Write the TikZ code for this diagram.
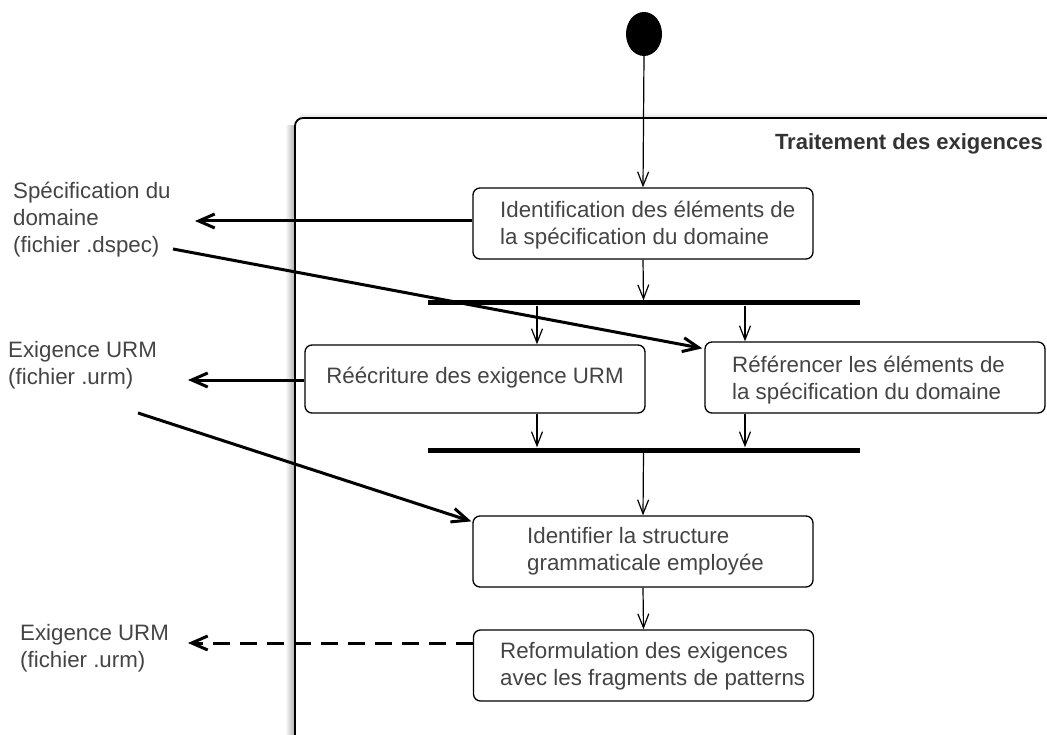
\documentclass[tikz,border=0pt]{standalone}
\usepackage{fontspec}
\setmainfont{Liberation Sans}
\usetikzlibrary{arrows.meta,shapes.geometric,calc}
\definecolor{txt}{HTML}{444444}
\definecolor{ttl}{HTML}{333333}
\tikzset{
  act/.style={draw=black, line width=1.3pt, rounded corners=7pt, fill=white,
    minimum width=340pt, inner sep=0pt},
  lbl/.style={text=txt, font=\fontsize{22.3}{27}\selectfont, align=left, inner sep=0pt},
  bar/.style={fill=black, minimum width=432pt, minimum height=5pt, inner sep=0pt},
  flow/.style={line width=1.2pt, -{Straight Barb[length=14pt,width=11pt]}},
  ext/.style={line width=3pt, -{Straight Barb[length=16pt,width=14pt]}},
}
\begin{document}
\begin{tikzpicture}[x=1pt,y=-1pt]
\useasboundingbox (0,0) rectangle (1047,735);
\clip (0,0) rectangle (1047,735);

% region: soft shadow on the left, then the frame itself
\shade[left color=white, right color=black!32] (285,126) rectangle (295,760);
\shade[top color=white, bottom color=black!12] (300,112) rectangle (1080,118);
\draw[line width=1.8pt, rounded corners=8pt, fill=white] (295,118) rectangle (1080,770);
\node[anchor=east, text=ttl, font=\fontsize{22}{27}\selectfont\bfseries, inner sep=0pt]
  (title) at (1043,144) {Traitement des exigences};

% initial state
\node[ellipse, fill=black, minimum width=36pt, minimum height=44pt, inner sep=0pt]
  (start) at (644,34) {};

% activities
\node[act, minimum height=71pt] (b1) at (643,223.5) {};
\node[lbl, anchor=west] (t1) at (500,225) {Identification des éléments de\\la spécification du domaine};

\node[bar] (bar1) at (643.5,303) {};

\node[act, minimum height=68pt] (b2) at (475,379) {};
\node[lbl] (t2) at (475,378) {Réécriture des exigence URM};

\node[act, minimum height=71pt] (b3) at (875,377.5) {};
\node[lbl, anchor=west] (t3) at (732,380) {Référencer les éléments de\\la spécification du domaine};

\node[bar] (bar2) at (643.5,450) {};

\node[act, minimum height=71pt] (b4) at (643,551.5) {};
\node[lbl, anchor=west] (t4) at (527,551) {Identifier la structure\\grammaticale employée};

\node[act, minimum height=71pt] (b5) at (643.5,665.5) {};
\node[lbl, anchor=west] (t5) at (500,666) {Reformulation des exigences\\avec les fragments de patterns};

% files outside the frame
\node[lbl, anchor=west] (f1) at (13,220) {Spécification du\\domaine\\(fichier .dspec)};
\node[lbl, anchor=west] (f2) at (8,365) {Exigence URM\\(fichier .urm)};
\node[lbl, anchor=west] (f3) at (20,648) {Exigence URM\\(fichier .urm)};

\coordinate (c537) at (537,0);
\coordinate (c745) at (745,0);
\coordinate (dspecOut) at (195,221);
\coordinate (dspecIn) at (173,249);
\coordinate (urmOut) at (188,380);
\coordinate (urmIn) at (138,413);
\coordinate (urmOut2) at (188,643);

% control flow
\draw[flow] (start.south) -- (b1.north);
\draw[flow] (b1.south) -- (bar1.north);
\draw[flow] (c537 |- bar1.south) -- (c537 |- b2.north);
\draw[flow] (c745 |- bar1.south) -- (c745 |- b3.north);
\draw[flow] (c537 |- b2.south) -- (c537 |- bar2.north);
\draw[flow] (c745 |- b3.south) -- (c745 |- bar2.north);
\draw[flow] (bar2.south) -- (b4.north);
\draw[flow] (b4.south) -- (b5.north);

% object flow with the files
\draw[ext] (b1.west |- dspecOut) -- (dspecOut);
\draw[ext] (dspecIn) -- ($(b3.north west)+(-2,7)$);
\draw[ext] (b2.west |- urmOut) -- (urmOut);
\draw[ext] (urmIn) -- ($(b4.north west)+(-1,6)$);
\draw[ext, dash pattern=on 17pt off 10pt] (b5.west |- urmOut2) -- (urmOut2);
\end{tikzpicture}
\end{document}
